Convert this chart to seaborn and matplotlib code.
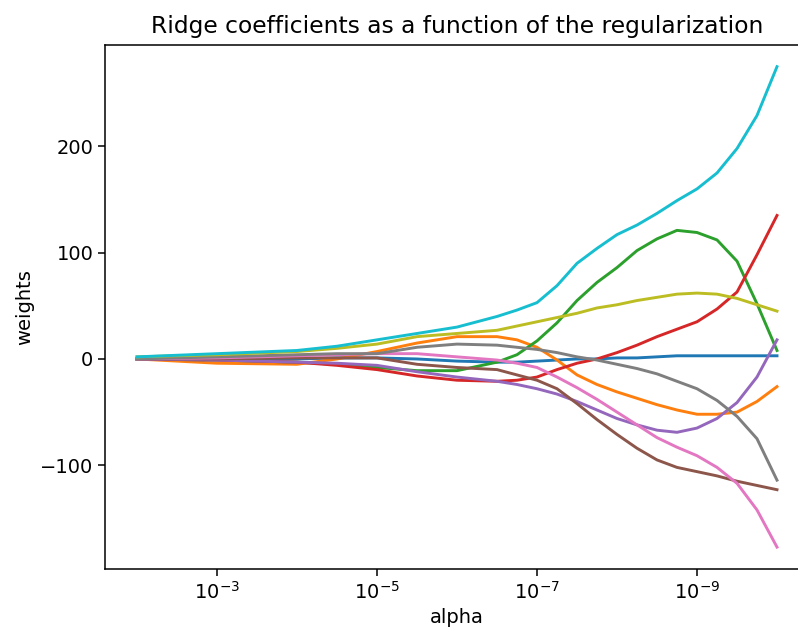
import matplotlib
matplotlib.use("Agg")
import matplotlib.pyplot as plt
import seaborn as sns
import pandas as pd

# alpha values
alphas = [1e-2, 1e-3, 1e-4, 3.16e-5, 1e-5, 3.16e-6, 1e-6, 3.16e-7, 1.78e-7, 1e-7, 5.62e-8,
          3.16e-8, 1.78e-8, 1e-8, 5.62e-9, 3.16e-9, 1.78e-9, 1e-9, 5.62e-10, 3.16e-10,
          1.78e-10, 1e-10]

coef_0 = [0, 0, 0, 1, 1, 0, -2, -3, -3, -2, -1, 0, 0, 1, 1, 2, 3, 3, 3, 3, 3, 3]
coef_1 = [0, -4, -5, 0, 7, 15, 21, 21, 18, 11, -1, -15, -24, -31, -37, -43, -48, -52, -52, -50, -40, -26]
coef_2 = [0, -1, -3, -5, -8, -11, -11, -3, 4, 17, 34, 55, 72, 86, 102, 113, 121, 119, 112, 92, 52, 8]
coef_3 = [0, -1, -3, -6, -10, -16, -20, -21, -20, -17, -10, -4, 0, 6, 13, 21, 28, 35, 47, 63, 98, 135]
coef_4 = [0, -1, -3, -4, -6, -12, -17, -21, -24, -28, -33, -40, -48, -56, -62, -67, -69, -65, -56, -41, -17, 18]
coef_5 = [0, 0, 1, 1, 1, -5, -8, -10, -15, -20, -28, -42, -57, -71, -84, -95, -102, -106, -110, -115, -119, -123]
coef_6 = [0, 1, 3, 4, 5, 5, 2, -1, -4, -8, -17, -27, -38, -50, -62, -74, -83, -91, -102, -117, -142, -177]
coef_7 = [0, 2, 4, 5, 5, 11, 14, 13, 11, 9, 6, 2, -1, -5, -9, -14, -21, -28, -39, -54, -75, -114]
coef_8 = [2, 4, 7, 10, 14, 21, 24, 27, 31, 35, 39, 43, 48, 51, 55, 58, 61, 62, 61, 57, 51, 45]
coef_9 = [2, 5, 8, 12, 18, 24, 30, 40, 46, 53, 69, 90, 104, 117, 126, 137, 149, 160, 175, 198, 229, 275]

series = [coef_0, coef_1, coef_2, coef_3, coef_4, coef_5, coef_6, coef_7, coef_8, coef_9]
names = [f"coef_{i}" for i in range(len(series))]

rows = []
for name, vals in zip(names, series):
    for a, v in zip(alphas, vals):
        rows.append({"alpha": a, "weight": v, "coef": name})
df = pd.DataFrame(rows)

plt.rcParams.update({
    "font.family": ["DejaVu Sans"],
    "axes.linewidth": 1.1,
    "xtick.major.size": 4.9,
    "ytick.major.size": 4.9,
    "xtick.major.width": 1.1,
    "ytick.major.width": 1.1,
    "xtick.minor.size": 0,
    "xtick.labelsize": 14,
    "ytick.labelsize": 14,
})

fig = plt.figure(figsize=(7.98, 6.37), dpi=100)
ax = fig.add_axes([105 / 798, 68 / 637, 704 / 798, 524 / 637])

sns.lineplot(data=df, x="alpha", y="weight", hue="coef", hue_order=names,
             palette="tab10", linewidth=2.1, legend=False, ax=ax, sort=True)

ax.set_xscale("log")
ax.set_xlim(10 ** -1.6, 10 ** -10.4)
ax.set_ylim(-197.6, 295.4)
ax.set_xticks([1e-3, 1e-5, 1e-7, 1e-9])
ax.set_yticks([-100, 0, 100, 200])
ax.minorticks_off()
ax.spines["right"].set_visible(False)

ax.set_xlabel("alpha", fontsize=14)
ax.set_ylabel("weights", fontsize=14)
ax.set_title("Ridge coefficients as a function of the regularization", fontsize=16.8, pad=9)

fig.savefig("out.png", dpi=100)
